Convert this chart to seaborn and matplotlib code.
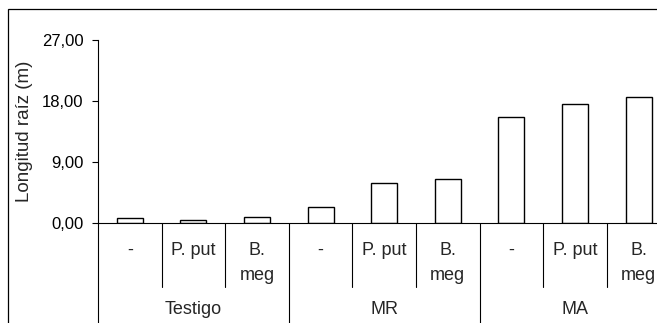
import matplotlib
matplotlib.use("Agg")
import matplotlib.pyplot as plt
from matplotlib.patches import Rectangle
import seaborn as sns
import pandas as pd

# ---- data ----
groups = ["Testigo", "MR", "MA"]
treatments = ["-", "P. put", "B.\nmeg"]
values_testigo = [0.8, 0.45, 1.0]
values_mr = [2.45, 5.95, 6.5]
values_ma = [15.6, 17.6, 18.6]
yticks = [0, 9, 18, 27]
ytick_labels = ["0,00", "9,00", "18,00", "27,00"]
ylabel = "Longitud raíz (m)"

all_values = [values_testigo, values_mr, values_ma]
rows = []
for g, vals in zip(groups, all_values):
    for t, v in zip(treatments, vals):
        rows.append({"group": g, "treat": t, "key": f"{g}|{t}", "value": v})
df = pd.DataFrame(rows)
order = list(df["key"])

sns.set_style("white")
plt.rcParams["font.family"] = ["Liberation Sans", "DejaVu Sans"]
FS_TICK = 12
FS_CAT = 13
FS_YLAB = 13.5

W, H = 657, 323
fig = plt.figure(figsize=(W / 100, H / 100), dpi=100)
fig.patch.set_facecolor("white")

ax_left = 98 / W
ax_bottom = (H - 223.3) / H
ax_width = 9 * 63.6 / W
ax_height = (223.3 - 40) / H
ax = fig.add_axes([ax_left, ax_bottom, ax_width, ax_height])

sns.barplot(data=df, x="key", y="value", order=order, color="white",
            saturation=1, edgecolor="black", linewidth=1.0, width=0.41,
            errorbar=None, ax=ax)

ax.set_xlim(-0.5, len(order) - 0.5)
ax.set_ylim(0, 27)
ax.set_yticks(yticks)
ax.set_yticklabels(ytick_labels, fontsize=FS_TICK)
ax.set_xticks([])
ax.set_xlabel("")
ax.set_ylabel(ylabel, fontsize=FS_YLAB)
ax.yaxis.set_label_coords(-(98 - 33) / (9 * 63.6), 0.5)
ax.tick_params(axis="y", direction="out", length=4.5, width=0.8, pad=6,
               left=True, colors="black")
for s in ["top", "right"]:
    ax.spines[s].set_visible(False)
for s in ["left", "bottom"]:
    ax.spines[s].set_color("black")
    ax.spines[s].set_linewidth(0.8)

trans = ax.get_xaxis_transform()
axh = 223.3 - 40
def ay(py):
    return -(py - 223.3) / axh

# separators
n = len(order)
for i in range(n + 1):
    x = i - 0.5
    if i % 3 == 0:
        ax.plot([x, x], [0, ay(340)], color="black", lw=0.8,
                transform=trans, clip_on=False)
    else:
        ax.plot([x, x], [0, ay(287)], color="black", lw=0.8,
                transform=trans, clip_on=False)

# inner labels
for i, key in enumerate(order):
    t = df.loc[i, "treat"]
    ax.text(i, ay(242), t, transform=trans, ha="center", va="top",
            fontsize=FS_CAT, linespacing=1.62, clip_on=False)

# group labels
for gi, g in enumerate(groups):
    ax.text(gi * 3 + 1, ay(310), g, transform=trans, ha="center",
            va="center", fontsize=FS_CAT, clip_on=False)

# outer border
fig.add_artist(Rectangle((8 / W, -0.1), 2, (H - 9) / H + 0.1,
                         transform=fig.transFigure, fill=False,
                         edgecolor="black", lw=0.9))

fig.savefig("out.png", dpi=100)
